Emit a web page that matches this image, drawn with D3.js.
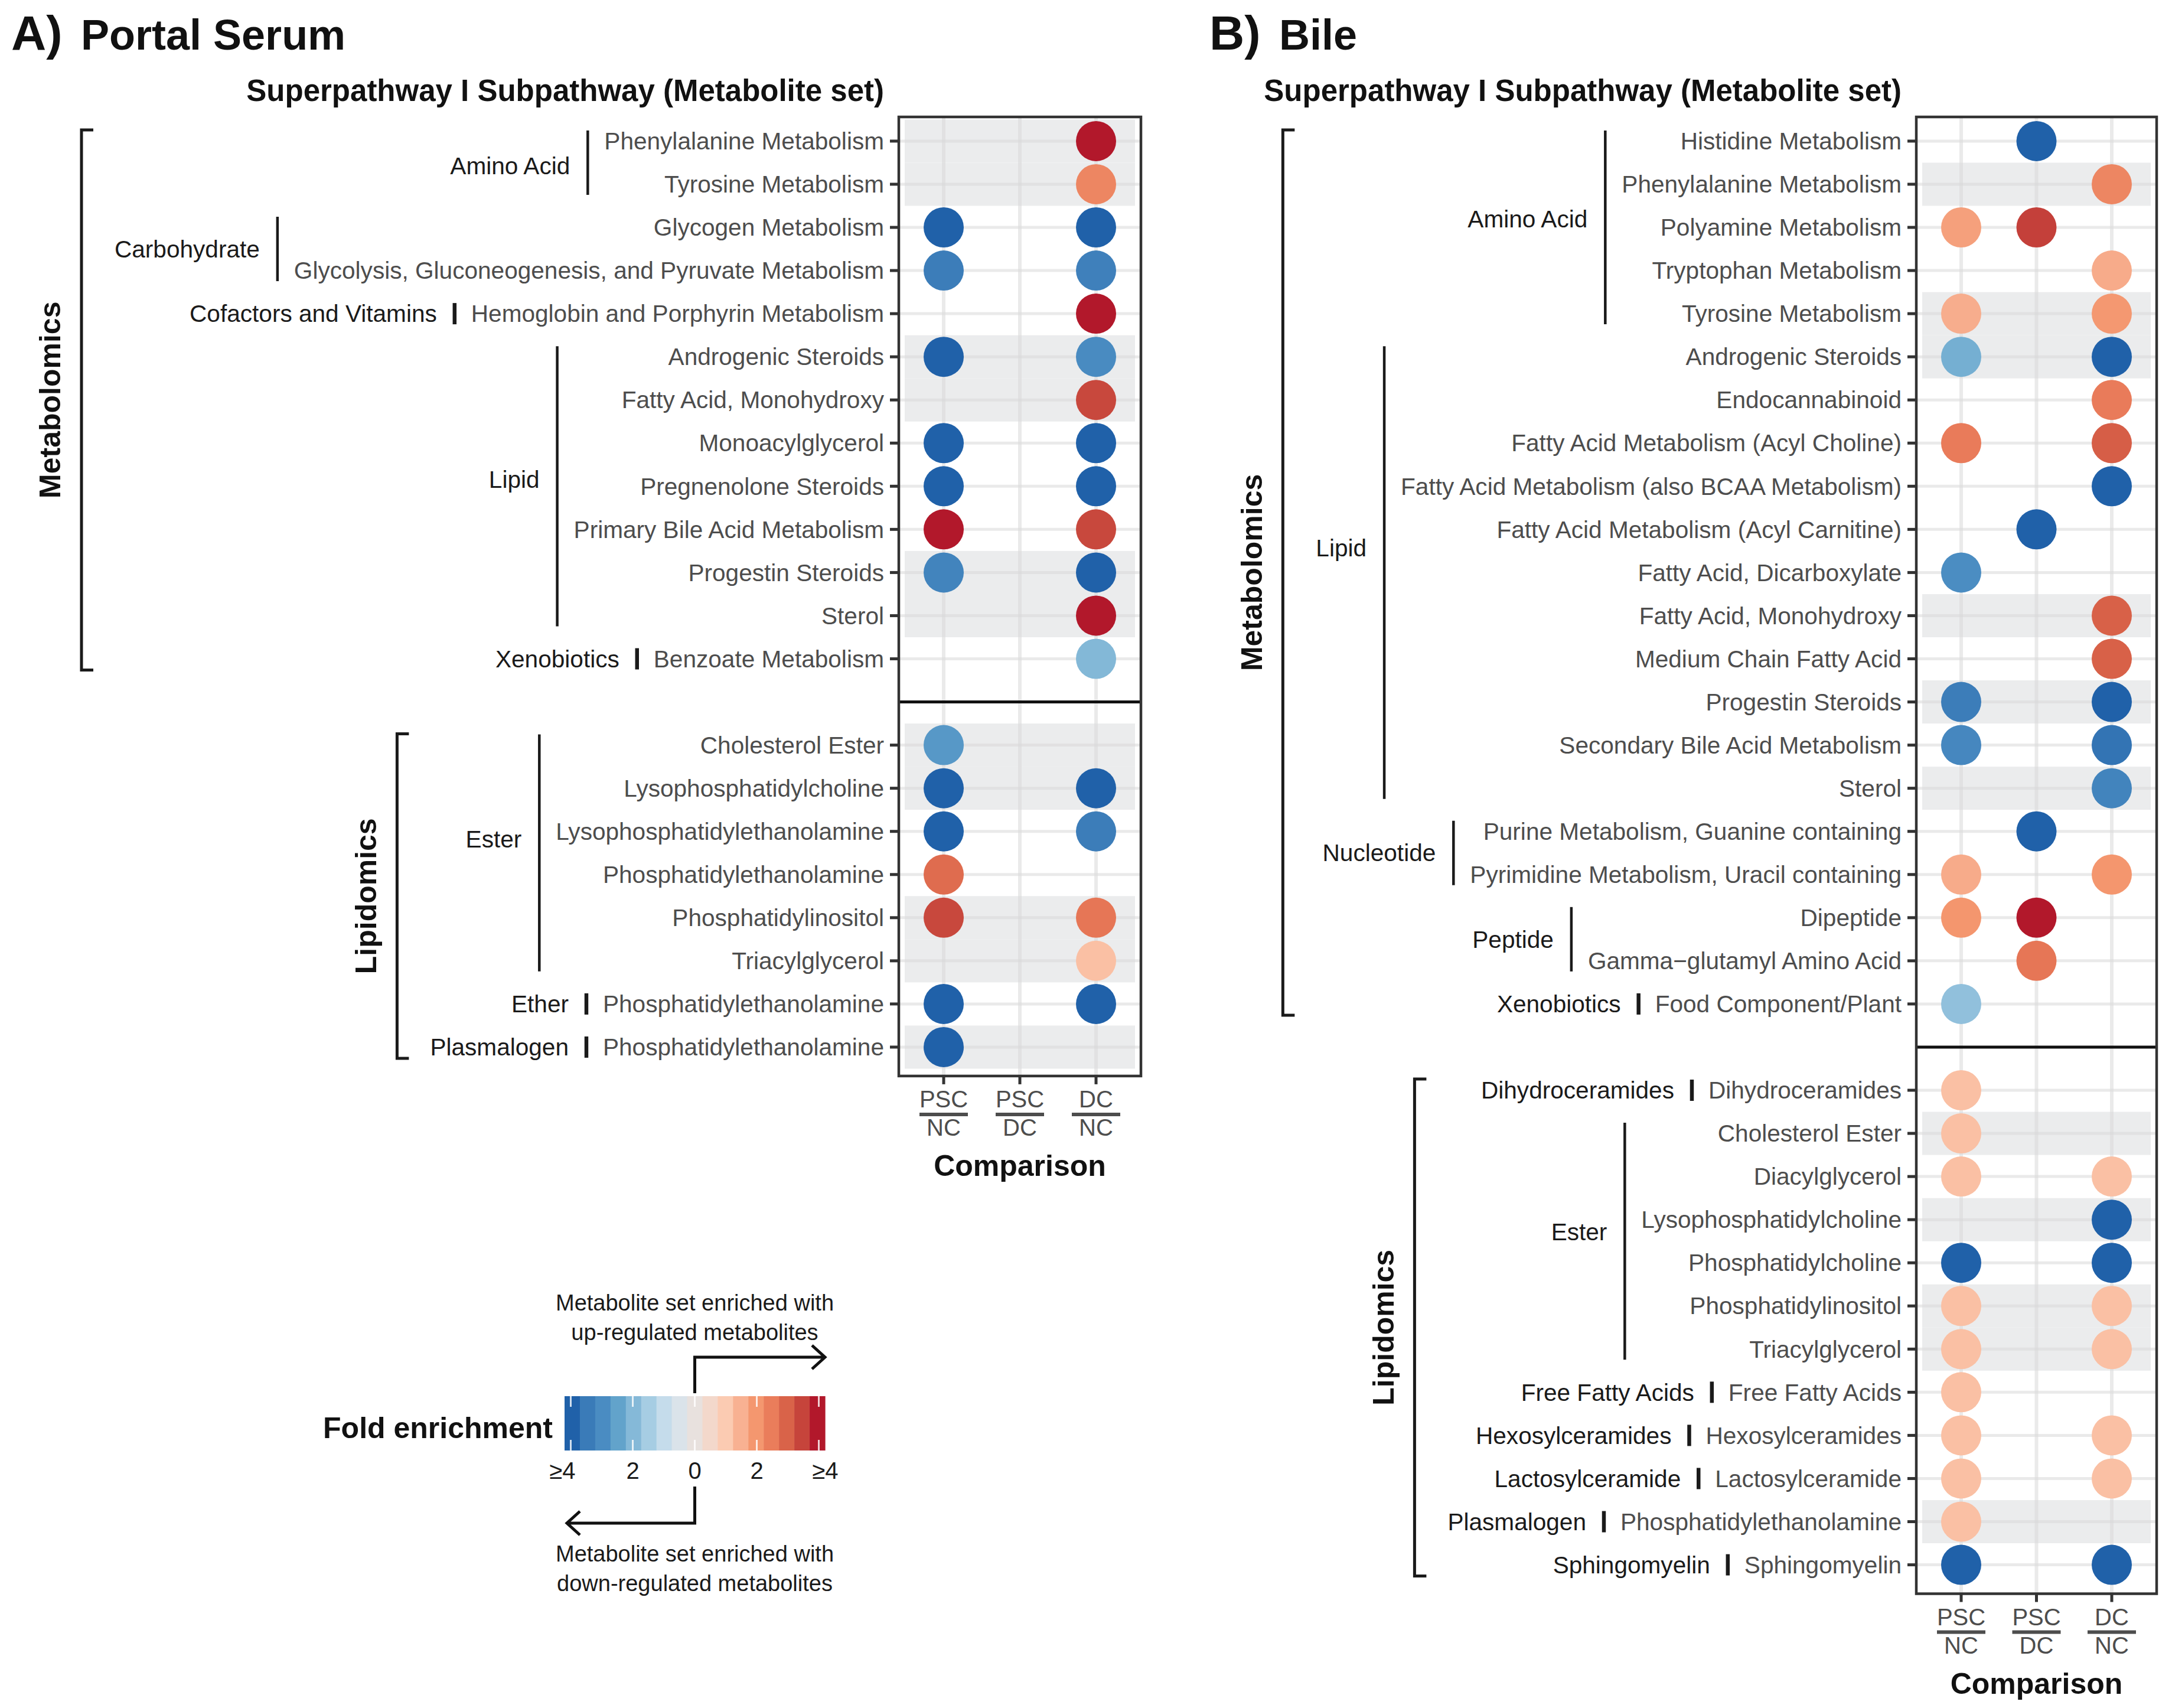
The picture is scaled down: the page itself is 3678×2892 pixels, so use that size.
<!DOCTYPE html>
<html>
<head>
<meta charset="utf-8">
<script src="https://cdn.jsdelivr.net/npm/d3@7"></script>
<style>
    body { margin: 0; background: #fff; }
    text { font-family: "Liberation Sans", Arial, Helvetica, sans-serif; }
</style>
</head>
<body>
<div id="chart"></div>
<script>
// ---- data ----
const comparisons = ["PSC/NC", "PSC/DC", "DC/NC"];
const comparisonTop = ["PSC", "PSC", "DC"];
const comparisonBottom = ["NC", "DC", "NC"];

// A) Portal serum - metabolomics
const serumMetabSub = ["Phenylalanine Metabolism", "Tyrosine Metabolism", "Glycogen Metabolism",
    "Glycolysis, Gluconeogenesis, and Pyruvate Metabolism", "Hemoglobin and Porphyrin Metabolism",
    "Androgenic Steroids", "Fatty Acid, Monohydroxy", "Monoacylglycerol", "Pregnenolone Steroids",
    "Primary Bile Acid Metabolism", "Progestin Steroids", "Sterol", "Benzoate Metabolism"];
const serumMetabSuper = ["Amino Acid", "Amino Acid", "Carbohydrate", "Carbohydrate", "Cofactors and Vitamins",
    "Lipid", "Lipid", "Lipid", "Lipid", "Lipid", "Lipid", "Lipid", "Xenobiotics"];
const serumMetabPSCvsNC = [null, null, -4, -3.4, null, -4, null, -4, -4, 4, -3.2, null, null];
const serumMetabPSCvsDC = [null, null, null, null, null, null, null, null, null, null, null, null, null];
const serumMetabDCvsNC = [4, 2.3, -4, -3.3, 4, -3.0, 3.4, -4, -4, 3.4, -4, 4, -2.0];
const serumMetabShade = [1, 1, 0, 0, 0, 1, 1, 0, 0, 0, 1, 1, 0];

// A) Portal serum - lipidomics
const serumLipidSub = ["Cholesterol Ester", "Lysophosphatidylcholine", "Lysophosphatidylethanolamine",
    "Phosphatidylethanolamine", "Phosphatidylinositol", "Triacylglycerol",
    "Phosphatidylethanolamine", "Phosphatidylethanolamine"];
const serumLipidSuper = ["Ester", "Ester", "Ester", "Ester", "Ester", "Ester", "Ether", "Plasmalogen"];
const serumLipidPSCvsNC = [-2.7, -4, -4, 2.8, 3.4, null, -4, -4];
const serumLipidPSCvsDC = [null, null, null, null, null, null, null, null];
const serumLipidDCvsNC = [null, -4, -3.4, null, 2.6, 1.2, -4, null];
const serumLipidShade = [1, 1, 0, 0, 1, 1, 0, 1];

// B) Bile - metabolomics
const bileMetabSub = ["Histidine Metabolism", "Phenylalanine Metabolism", "Polyamine Metabolism",
    "Tryptophan Metabolism", "Tyrosine Metabolism", "Androgenic Steroids", "Endocannabinoid",
    "Fatty Acid Metabolism (Acyl Choline)", "Fatty Acid Metabolism (also BCAA Metabolism)",
    "Fatty Acid Metabolism (Acyl Carnitine)", "Fatty Acid, Dicarboxylate", "Fatty Acid, Monohydroxy",
    "Medium Chain Fatty Acid", "Progestin Steroids", "Secondary Bile Acid Metabolism", "Sterol",
    "Purine Metabolism, Guanine containing", "Pyrimidine Metabolism, Uracil containing",
    "Dipeptide", "Gamma\u2212glutamyl Amino Acid", "Food Component/Plant"];
const bileMetabSuper = ["Amino Acid", "Amino Acid", "Amino Acid", "Amino Acid", "Amino Acid",
    "Lipid", "Lipid", "Lipid", "Lipid", "Lipid", "Lipid", "Lipid", "Lipid", "Lipid", "Lipid", "Lipid",
    "Nucleotide", "Nucleotide", "Peptide", "Peptide", "Xenobiotics"];
const bileMetabPSCvsNC = [null, null, 1.8, null, 1.55, -2.2, null, 2.5, null, null, -2.95, null, null,
    -3.4, -3.1, null, null, 1.6, 2.0, null, -1.8];
const bileMetabPSCvsDC = [-4, null, 3.5, null, null, null, null, null, null, -4, null, null, null,
    null, null, null, -4, null, 4, 2.6, null];
const bileMetabDCvsNC = [null, 2.3, null, 1.6, 1.95, -4, 2.5, 3.05, -4, null, null, 3.0, 3.0,
    -4, -3.6, -3.2, null, 2.0, null, null, null];
const bileMetabShade = [0, 1, 0, 0, 1, 1, 0, 0, 0, 0, 0, 1, 0, 1, 0, 1, 0, 0, 0, 0, 0];

// B) Bile - lipidomics
const bileLipidSub = ["Dihydroceramides", "Cholesterol Ester", "Diacylglycerol", "Lysophosphatidylcholine",
    "Phosphatidylcholine", "Phosphatidylinositol", "Triacylglycerol", "Free Fatty Acids",
    "Hexosylceramides", "Lactosylceramide", "Phosphatidylethanolamine", "Sphingomyelin"];
const bileLipidSuper = ["Dihydroceramides", "Ester", "Ester", "Ester", "Ester", "Ester", "Ester",
    "Free Fatty Acids", "Hexosylceramides", "Lactosylceramide", "Plasmalogen", "Sphingomyelin"];
const bileLipidPSCvsNC = [1.2, 1.2, 1.2, null, -4, 1.2, 1.2, 1.2, 1.2, 1.2, 1.2, -4];
const bileLipidPSCvsDC = [null, null, null, null, null, null, null, null, null, null, null, null];
const bileLipidDCvsNC = [null, null, 1.2, -4, -4, 1.2, 1.2, null, 1.2, 1.2, null, -4];
const bileLipidShade = [0, 1, 0, 1, 0, 1, 1, 0, 0, 0, 1, 0];

// legend colour steps (blue = down, red = up) and tick labels
const foldBins = ["#2061a9", "#3a7bb8", "#4a8cc2", "#62a3cb", "#85b9d8", "#a6cde3", "#c5dceb", "#dae3ea",
    "#e8e1de", "#f3d8cb", "#fbcbb2", "#f8b192", "#f4976f", "#ea7d5b", "#d96349", "#c6443b", "#b2182b"];
const legendTicks = [-4, -2, 0, 2, 4];
const legendTickLabels = ["\u22654", "2", "0", "2", "\u22654"];

// ---- setup ----
const W = 3678, H = 2892;
const rowStep = 73.05;
const labelSize = 40.6;

const svg = d3.select("#chart")
    .append("svg")
    .attr("width", W)
    .attr("height", H);

svg.append("rect").attr("width", W).attr("height", H).attr("fill", "#fff");

const binW = 8.4 / foldBins.length;
const binCenters = foldBins.map((c, i) => -4.2 + (i + 0.5) * binW);
const fill = d3.scaleLinear().domain(binCenters).range(foldBins).clamp(true);

function drawPanel(p) {
    const g = svg.append("g");

    // flatten facets into one y axis, with an empty slot between facets
    const rows = [];
    p.facets.forEach((f, fi) => {
        if (fi > 0) rows.push({ blank: true });
        f.sub.forEach((s, i) => rows.push({
            facet: fi, sub: s, sup: f.sup[i], shade: f.shade[i], vals: f.vals.map(v => v[i])
        }));
    });
    rows.forEach((r, k) => r.k = k);
    const real = rows.filter(r => !r.blank);
    const n = rows.length;

    const y = d3.scaleLinear()
        .domain([-0.56, n - 1 + 0.67])
        .range([p.top, p.top + rowStep * (n - 1 + 1.23)]);
    const bottom = y.range()[1];
    const x = d3.scalePoint().domain(comparisons).range([p.left + 76, p.right - 76]);

    // shaded bands
    g.selectAll(".band")
        .data(real.filter(r => r.shade))
        .join("rect")
        .attr("x", p.left + 10)
        .attr("width", p.right - p.left - 20)
        .attr("y", r => y(r.k - 0.5))
        .attr("height", y(1) - y(0))
        .attr("fill", "#ebeced");

    // grid
    g.selectAll(".hgrid")
        .data(real)
        .join("line")
        .attr("x1", p.left).attr("x2", p.right)
        .attr("y1", r => y(r.k)).attr("y2", r => y(r.k))
        .attr("stroke", "#d8d8d8").attr("stroke-opacity", 0.55).attr("stroke-width", 5);
    g.selectAll(".vgrid")
        .data(comparisons)
        .join("line")
        .attr("x1", c => x(c)).attr("x2", c => x(c))
        .attr("y1", p.top).attr("y2", bottom)
        .attr("stroke", "#d8d8d8").attr("stroke-opacity", 0.55).attr("stroke-width", 6);

    // dots
    const dots = real.flatMap(r => comparisons.map((c, j) => ({ k: r.k, c: c, v: r.vals[j] })))
        .filter(d => d.v != null);
    g.selectAll(".dot")
        .data(dots)
        .join("circle")
        .attr("cx", d => x(d.c))
        .attr("cy", d => y(d.k))
        .attr("r", 34)
        .attr("fill", d => fill(d.v));

    // divider between metabolomics and lipidomics
    rows.filter(r => r.blank).forEach(r => {
        g.append("line")
            .attr("x1", p.left).attr("x2", p.right)
            .attr("y1", y(r.k)).attr("y2", y(r.k))
            .attr("stroke", "#111").attr("stroke-width", 5);
    });

    // panel border
    g.append("rect")
        .attr("x", p.left).attr("y", p.top)
        .attr("width", p.right - p.left).attr("height", bottom - p.top)
        .attr("fill", "none").attr("stroke", "#333").attr("stroke-width", 4.5);

    // y ticks
    g.selectAll(".ytick")
        .data(real)
        .join("line")
        .attr("x1", p.left - 15).attr("x2", p.left)
        .attr("y1", r => y(r.k)).attr("y2", r => y(r.k))
        .attr("stroke", "#333").attr("stroke-width", 5);

    // subpathway labels
    const labelEnd = p.left - 25;
    g.selectAll(".sub")
        .data(real)
        .join("text")
        .attr("x", labelEnd)
        .attr("y", r => y(r.k))
        .attr("dy", "0.35em")
        .attr("text-anchor", "end")
        .attr("font-size", labelSize)
        .attr("fill", "#4d4d4d")
        .text(r => r.sub)
        .each(function (r) { r.w = this.getComputedTextLength(); });

    // superpathway groups
    const groups = [];
    real.forEach(r => {
        const last = groups[groups.length - 1];
        if (last && last.facet === r.facet && last.sup === r.sup) last.rows.push(r);
        else groups.push({ facet: r.facet, sup: r.sup, rows: [r] });
    });
    groups.forEach(gr => {
        const maxW = d3.max(gr.rows, r => r.w);
        const bx = labelEnd - maxW - 28;
        const y0 = y(gr.rows[0].k), y1 = y(gr.rows[gr.rows.length - 1].k);
        const shift = (p.labelShift || {})[gr.facet + ":" + gr.sup] || 0;
        g.append("line")
            .attr("x1", bx).attr("x2", bx)
            .attr("y1", y0 - 18).attr("y2", y1 + 18)
            .attr("stroke", "#1a1a1a")
            .attr("stroke-width", gr.rows.length > 1 ? 4.5 : 6.5);
        const t = g.append("text")
            .attr("x", bx - 30)
            .attr("y", (y0 + y1) / 2 + shift)
            .attr("dy", "0.35em")
            .attr("text-anchor", "end")
            .attr("font-size", labelSize)
            .attr("fill", "#1a1a1a")
            .text(gr.sup);
        gr.start = bx - 30 - t.node().getComputedTextLength();
    });

    // omics brackets
    p.facets.forEach((f, fi) => {
        const fr = real.filter(r => r.facet === fi);
        const bx = d3.min(groups.filter(gr => gr.facet === fi), gr => gr.start) - 56;
        const y0 = y(fr[0].k) - 19, y1 = y(fr[fr.length - 1].k) + 19;
        g.append("path")
            .attr("d", `M${bx + 20},${y0}H${bx}V${y1}H${bx + 20}`)
            .attr("fill", "none").attr("stroke", "#1a1a1a").attr("stroke-width", 5);
        g.append("text")
            .attr("transform", `translate(${bx - 53},${(y0 + y1) / 2}) rotate(-90)`)
            .attr("text-anchor", "middle")
            .attr("dy", "0.35em")
            .attr("font-size", 50)
            .attr("font-weight", "bold")
            .attr("fill", "#111")
            .text(f.name);
    });

    // x axis: fraction labels
    comparisons.forEach((c, j) => {
        g.append("line")
            .attr("x1", x(c)).attr("x2", x(c))
            .attr("y1", bottom).attr("y2", bottom + 14)
            .attr("stroke", "#333").attr("stroke-width", 5);
        g.append("text")
            .attr("x", x(c)).attr("y", bottom + 53)
            .attr("text-anchor", "middle").attr("font-size", 40).attr("fill", "#4d4d4d")
            .text(comparisonTop[j]);
        g.append("line")
            .attr("x1", x(c) - 41).attr("x2", x(c) + 41)
            .attr("y1", bottom + 65).attr("y2", bottom + 65)
            .attr("stroke", "#4d4d4d").attr("stroke-width", 6);
        g.append("text")
            .attr("x", x(c)).attr("y", bottom + 101)
            .attr("text-anchor", "middle").attr("font-size", 40).attr("fill", "#4d4d4d")
            .text(comparisonBottom[j]);
    });
    g.append("text")
        .attr("x", x(comparisons[1])).attr("y", bottom + 169)
        .attr("text-anchor", "middle").attr("font-size", 50).attr("font-weight", "bold")
        .attr("fill", "#111")
        .text("Comparison");

    // header and title
    g.append("text")
        .attr("x", labelEnd).attr("y", 171)
        .attr("text-anchor", "end").attr("font-size", 51).attr("font-weight", "bold")
        .attr("fill", "#111")
        .text("Superpathway I Subpathway (Metabolite set)");
    g.append("text")
        .attr("x", p.titleX).attr("y", 84)
        .attr("font-size", 82).attr("font-weight", "bold").attr("fill", "#111")
        .text(p.letter);
    g.append("text")
        .attr("x", p.titleX + 118).attr("y", 84)
        .attr("font-size", 72).attr("font-weight", "bold").attr("fill", "#111")
        .text(p.title);
}

drawPanel({
    left: 1522, right: 1932, top: 198, titleX: 19, letter: "A)", title: "Portal Serum",
    labelShift: { "0:Amino Acid": 5, "0:Lipid": -12, "1:Ester": -23 },
    facets: [
        { name: "Metabolomics", sub: serumMetabSub, sup: serumMetabSuper, shade: serumMetabShade,
          vals: [serumMetabPSCvsNC, serumMetabPSCvsDC, serumMetabDCvsNC] },
        { name: "Lipidomics", sub: serumLipidSub, sup: serumLipidSuper, shade: serumLipidShade,
          vals: [serumLipidPSCvsNC, serumLipidPSCvsDC, serumLipidDCvsNC] }
    ]
});

drawPanel({
    left: 3245, right: 3652, top: 198, titleX: 2048, letter: "B)", title: "Bile",
    labelShift: { "0:Amino Acid": -14, "0:Lipid": -42, "1:Ester": -16 },
    facets: [
        { name: "Metabolomics", sub: bileMetabSub, sup: bileMetabSuper, shade: bileMetabShade,
          vals: [bileMetabPSCvsNC, bileMetabPSCvsDC, bileMetabDCvsNC] },
        { name: "Lipidomics", sub: bileLipidSub, sup: bileLipidSuper, shade: bileLipidShade,
          vals: [bileLipidPSCvsNC, bileLipidPSCvsDC, bileLipidDCvsNC] }
    ]
});

// ---- legend ----
const lg = svg.append("g");
const lx = d3.scaleLinear().domain([-4.2, 4.2]).range([956, 1397]);
const barTop = 2364, barH = 92;

lg.selectAll(".bin")
    .data(foldBins.map((c, i) => ({ c: c, v0: -4.2 + i * binW, v1: -4.2 + (i + 1) * binW })))
    .join("rect")
    .attr("x", d => lx(d.v0))
    .attr("width", d => lx(d.v1) - lx(d.v0) + 0.6)
    .attr("y", barTop)
    .attr("height", barH)
    .attr("fill", d => d.c);

legendTicks.forEach((v, i) => {
    lg.append("line")
        .attr("x1", lx(v)).attr("x2", lx(v)).attr("y1", barTop).attr("y2", barTop + 18)
        .attr("stroke", "#fff").attr("stroke-opacity", 0.8).attr("stroke-width", 3);
    lg.append("line")
        .attr("x1", lx(v)).attr("x2", lx(v)).attr("y1", barTop + barH - 18).attr("y2", barTop + barH)
        .attr("stroke", "#fff").attr("stroke-opacity", 0.8).attr("stroke-width", 3);
    lg.append("text")
        .attr("x", lx(v) + (i === 0 ? -14 : i === legendTicks.length - 1 ? 11 : 0))
        .attr("y", 2504)
        .attr("text-anchor", "middle").attr("font-size", 40).attr("fill", "#1a1a1a")
        .text(legendTickLabels[i]);
});

lg.append("text")
    .attr("x", 936).attr("y", 2435)
    .attr("text-anchor", "end").attr("font-size", 50).attr("font-weight", "bold").attr("fill", "#111")
    .text("Fold enrichment");

// arrows
const x0 = lx(0);
lg.append("path")
    .attr("d", `M${x0},2359V2298H1397M1375,2278L1397,2298L1375,2318`)
    .attr("fill", "none").attr("stroke", "#111").attr("stroke-width", 5);
lg.append("path")
    .attr("d", `M${x0},2517V2579H960M982,2559L960,2579L982,2599`)
    .attr("fill", "none").attr("stroke", "#111").attr("stroke-width", 5);

const upText = ["Metabolite set enriched with", "up-regulated metabolites"];
const downText = ["Metabolite set enriched with", "down-regulated metabolites"];
upText.forEach((t, i) => {
    lg.append("text").attr("x", x0).attr("y", 2219 + i * 50)
        .attr("text-anchor", "middle").attr("font-size", 38).attr("fill", "#1a1a1a").text(t);
});
downText.forEach((t, i) => {
    lg.append("text").attr("x", x0).attr("y", 2644 + i * 50)
        .attr("text-anchor", "middle").attr("font-size", 38).attr("fill", "#1a1a1a").text(t);
});
</script>
</body>
</html>
